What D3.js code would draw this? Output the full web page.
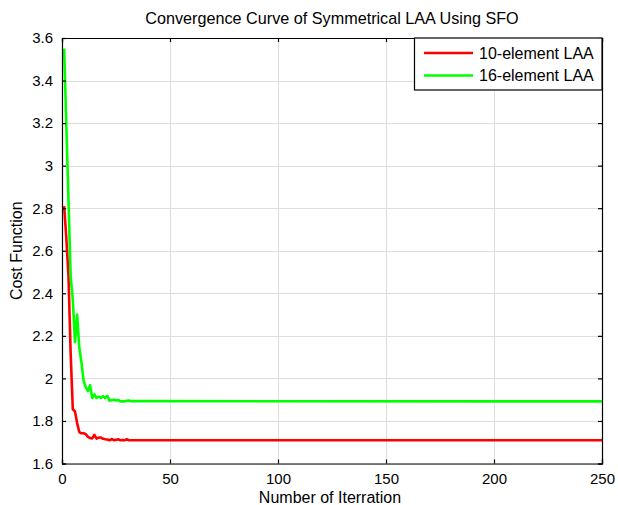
<!DOCTYPE html>
<html>
<head>
<meta charset="utf-8">
<script src="https://cdn.jsdelivr.net/npm/d3@7"></script>
<style>
  html, body { margin: 0; padding: 0; background: #fff; }
  svg { display: block; font-family: "Liberation Sans", Arial, sans-serif; }
</style>
</head>
<body>
<svg id="chart" width="618" height="505"></svg>
<script>
// ---- data ----
const titleText = "Convergence Curve of Symmetrical LAA Using SFO";
const xLabelText = "Number of Iterration";
const yLabelText = "Cost Function";
const seriesNames = ["10-element LAA", "16-element LAA"];
const seriesColors = ["#ff0000", "#00ff00"];
const xTicks = [0, 50, 100, 150, 200, 250];
const yTicks = [1.6, 1.8, 2.0, 2.2, 2.4, 2.6, 2.8, 3.0, 3.2, 3.4, 3.6];

const redIter = [1,2,3,4,5,6,7,8,9,10,11,12,13,14,15,16,17,18,19,20,21,22,23,24,25,26,27,28,29,30,31,250];
const redCost = [2.81,2.66,2.48,2.12,1.855,1.845,1.79,1.748,1.742,1.742,1.738,1.725,1.72,1.718,1.735,1.717,1.722,1.722,1.716,1.714,1.713,1.709,1.715,1.71,1.711,1.714,1.709,1.71,1.709,1.714,1.709,1.709];

const greenIter = [1,2,3,4,5,6,7,8,9,10,11,12,13,14,15,16,17,18,19,20,21,22,23,24,25,26,27,28,29,30,31,32,250];
const greenCost = [3.55,3.19,2.84,2.48,2.37,2.17,2.30,2.145,2.075,1.99,1.958,1.94,1.968,1.908,1.925,1.908,1.914,1.908,1.916,1.908,1.918,1.895,1.898,1.9,1.896,1.899,1.892,1.892,1.892,1.895,1.896,1.893,1.892];

// ---- layout ----
const svg = d3.select("#chart");
const L = 62, R = 602, T = 38, B = 463.5;
const x = d3.scaleLinear().domain([0, 250]).range([L, R]);
const y = d3.scaleLinear().domain([1.6, 3.6]).range([B, T]);

svg.append("rect").attr("width", 618).attr("height", 505).attr("fill", "#fff");

// grid
const grid = svg.append("g");
grid.selectAll(".gx").data(xTicks).enter().append("line")
  .attr("x1", d => Math.round(x(d)) + 0.5).attr("x2", d => Math.round(x(d)) + 0.5)
  .attr("y1", T).attr("y2", B).attr("stroke", "#dedede").attr("stroke-width", 1);
grid.selectAll(".gy").data(yTicks).enter().append("line")
  .attr("y1", d => Math.round(y(d)) + 0.5).attr("y2", d => Math.round(y(d)) + 0.5)
  .attr("x1", L).attr("x2", R).attr("stroke", "#dedede").attr("stroke-width", 1);

// lines
const line = d3.line().x(d => x(d[0])).y(d => y(d[1]));
const series = [
  d3.zip(redIter, redCost),
  d3.zip(greenIter, greenCost)
];
svg.append("g").selectAll("path").data(series).enter().append("path")
  .attr("d", d => line(d))
  .attr("fill", "none")
  .attr("stroke", (d, i) => seriesColors[i])
  .attr("stroke-width", 2.6)
  .attr("stroke-linejoin", "round");

// axes
const fmt = d => String(+d.toFixed(1));
const ax = svg.append("g").attr("transform", `translate(0,${B})`)
  .call(d3.axisBottom(x).tickValues(xTicks).tickSize(-4).tickPadding(10).tickFormat(d => d));
const ay = svg.append("g").attr("transform", `translate(${L},0)`)
  .call(d3.axisLeft(y).tickValues(yTicks).tickSize(-4).tickPadding(9).tickFormat(fmt));
const axT = svg.append("g").attr("transform", `translate(0,${T})`)
  .call(d3.axisTop(x).tickValues(xTicks).tickSize(-4).tickFormat(""));
const ayR = svg.append("g").attr("transform", `translate(${R},0)`)
  .call(d3.axisRight(y).tickValues(yTicks).tickSize(-4).tickFormat(""));
[ax, ay, axT, ayR].forEach(g => {
  g.select(".domain").attr("stroke", "#000").attr("stroke-width", 1.2);
  g.selectAll(".tick line").attr("stroke", "#000").attr("stroke-width", 1.2);
  g.selectAll(".tick text").attr("fill", "#000").attr("font-size", 15)
    .attr("font-family", "Liberation Sans, Arial, sans-serif");
});

// title and labels
svg.append("text").attr("x", (L + R) / 2).attr("y", 24).attr("text-anchor", "middle")
  .attr("font-size", 16.2).attr("fill", "#000").text(titleText);
svg.append("text").attr("x", (L + R) / 2 - 2).attr("y", 503).attr("text-anchor", "middle")
  .attr("font-size", 16).attr("fill", "#000").text(xLabelText);
svg.append("text").attr("transform", `translate(22,${(T + B) / 2}) rotate(-90)`)
  .attr("text-anchor", "middle").attr("font-size", 16).attr("fill", "#000").text(yLabelText);

// legend
const lg = svg.append("g");
lg.append("rect").attr("x", 414.5).attr("y", T).attr("width", R - 414.5).attr("height", 52)
  .attr("fill", "#fff").attr("stroke", "#000").attr("stroke-width", 1.2);
seriesNames.forEach((name, i) => {
  const yy = T + 15 + i * 22.5;
  lg.append("line").attr("x1", 424).attr("x2", 473).attr("y1", yy).attr("y2", yy)
    .attr("stroke", seriesColors[i]).attr("stroke-width", 2.6);
  lg.append("text").attr("x", 479).attr("y", yy + 5.5).attr("font-size", 16)
    .attr("fill", "#000").text(name);
});
</script>
</body>
</html>
